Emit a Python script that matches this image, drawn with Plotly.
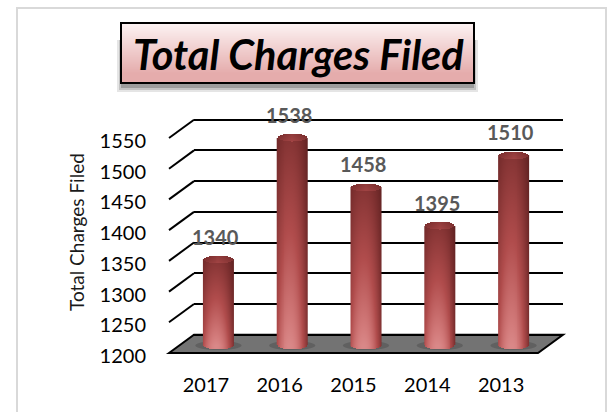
import numpy as np
import plotly.graph_objects as go

categories = ["2017", "2016", "2015", "2014", "2013"]
values = [1340, 1538, 1458, 1395, 1510]
y_ticks = [1200, 1250, 1300, 1350, 1400, 1450, 1500, 1550]
title_text = "Total Charges Filed"
y_title = "Total Charges Filed"

W, H = 613, 412
FONT = "Lato"
PX_PER_UNIT = (353 - 138) / 350.0
SLOT = (538 - 169) / 5.0


def vdomain(y_base, low, high):
    bottom = y_base + (1200 - low) * PX_PER_UNIT
    top = y_base - (high - 1200) * PX_PER_UNIT
    return [(H - bottom) / H, (H - top) / H]


def px(x):
    return x / W


def py(y):
    return (H - y) / H


FRONT = dict(left=169, base=353)
MID = dict(left=181.5, base=345.5)
BACK = dict(left=194, base=334.7)
LABEL_BASE = 356


def row(plane, v):
    return plane["base"] - (v - 1200) * PX_PER_UNIT


fig = go.Figure()

# Subplot order: x/y = back wall grid, x2/y2 = front labelled axes, x3/y3 = cylinders
fig.add_trace(go.Scatter(x=[0, 4], y=[1300, 1300], xaxis="x", yaxis="y", mode="markers",
                         marker=dict(opacity=0), hoverinfo="skip", showlegend=False))
fig.add_trace(go.Scatter(x=[0, 4], y=[1300, 1300], xaxis="x2", yaxis="y2", mode="markers",
                         marker=dict(opacity=0), hoverinfo="skip", showlegend=False))

BAR_PX = 30
RX, RY = BAR_PX / 2.0, 4.0
colorscale = [
    [0.0, "#4f1a1a"],
    [0.3, "#7e3030"],
    [0.6, "#b04c4c"],
    [0.85, "#d27a7a"],
    [1.0, "#e29898"],
]
for i, (cat, v) in enumerate(zip(categories, values)):
    nx = BAR_PX + 2
    xp = np.linspace(-RX, RX, nx)
    xs = i + xp / SLOT
    top_units = v + RY / PX_PER_UNIT
    bot_units = 1200 - RY / PX_PER_UNIT
    ny = int(round((top_units - bot_units) * PX_PER_UNIT)) + 1
    ys = np.linspace(bot_units, top_units, ny)
    z = np.full((ny, nx), np.nan)
    ry_units = RY / PX_PER_UNIT
    for r, yv in enumerate(ys):
        for c, xo in enumerate(xp):
            u = xo / RX
            half = 0.0 if abs(u) >= 1 else ry_units * np.sqrt(1 - u * u)
            if yv < 1200 - half or yv > v + half:
                continue
            t = np.clip((yv - 1200) / (v - 1200), 0, 1)
            side = 1 - 0.48 * abs(u + 0.15) ** 2.2
            base = 0.92 - 0.58 * t
            b = base * side
            if yv > v - half:
                b = 0.30 + 0.16 * (1 - abs(u)) - 0.06 * (yv - v) / ry_units
            z[r, c] = b
    fig.add_trace(go.Heatmap(x=xs, y=ys, z=z, xaxis="x3", yaxis="y3", zmin=0, zmax=1,
                             colorscale=colorscale, showscale=False, hoverinfo="skip",
                             name=cat))

shapes = []
shapes.append(dict(type="rect", xref="paper", yref="paper", x0=px(17), x1=px(606), y0=-0.02, y1=py(8),
                   line=dict(color="#d9d9d9", width=2), fillcolor="white", layer="below"))
for k, op in zip([7, 5, 3], [0.10, 0.15, 0.20]):
    shapes.append(dict(type="rect", xref="paper", yref="paper", x0=px(121 - k + 3), x1=px(474 + k - 3),
                       y0=py(83 + k + 2), y1=py(40), line=dict(width=0), fillcolor="#000000",
                       opacity=op, layer="below"))
box_top, box_bot = 23, 83
n = box_bot - box_top
c_top, c_bot = np.array([253, 243, 243]), np.array([229, 172, 172])
for k in range(n):
    f = min(1.0, k / (n - 1) / 0.85)
    col = c_top + (c_bot - c_top) * f
    shapes.append(dict(type="rect", xref="paper", yref="paper", x0=px(121), x1=px(474),
                       y0=py(box_top + k + 1.5), y1=py(box_top + k), line=dict(width=0),
                       fillcolor="rgb(%d,%d,%d)" % tuple(col), layer="below"))
shapes.append(dict(type="rect", xref="paper", yref="paper", x0=px(121), x1=px(474),
                   y0=py(box_bot), y1=py(box_top), line=dict(color="#000000", width=2),
                   fillcolor="rgba(0,0,0,0)", layer="below"))
f0 = FRONT["base"]
b0 = BACK["base"]
fr = FRONT["left"] + 5 * SLOT
br = BACK["left"] + 5 * SLOT
shapes.append(dict(type="path", xref="paper", yref="paper",
                   path=f"M {px(FRONT['left'])} {py(f0)} L {px(BACK['left'])} {py(b0)} L {px(br)} {py(b0)} L {px(fr)} {py(f0)} Z",
                   fillcolor="#737373", line=dict(color="#000000", width=2), layer="below"))
for t in y_ticks[1:]:
    shapes.append(dict(type="line", xref="paper", yref="paper",
                       x0=px(FRONT["left"]), y0=py(row(FRONT, t)),
                       x1=px(BACK["left"]), y1=py(row(BACK, t)),
                       line=dict(color="#000000", width=2), layer="below"))
for i in range(len(values)):
    shapes.append(dict(type="circle", xref="x3", yref="y3",
                       x0=i - 23 / SLOT, x1=i + 23 / SLOT,
                       y0=1200 - 4.5 / PX_PER_UNIT, y1=1200 + 4.5 / PX_PER_UNIT,
                       fillcolor="rgba(60,60,60,0.35)", line=dict(width=0), layer="below"))

annotations = [
    dict(text=f"<b><i>{title_text}</i></b>", xref="paper", yref="paper", x=px(298), y=py(54),
         xanchor="center", yanchor="middle",
         showarrow=False, font=dict(family=FONT, size=41.5, color="#000000")),
    dict(text=y_title, xref="paper", yref="paper", x=px(76), y=py(232), textangle=-90,
         xanchor="center", yanchor="middle",
         showarrow=False, font=dict(family=FONT, size=19, color="#1a1a1a")),
]
for i, v in enumerate(values):
    annotations.append(dict(text=f"<b>{v}</b>", xref="x3", yref="y3", x=i, y=v, xanchor="center",
                            yanchor="bottom", xshift=-3, yshift=9, showarrow=False,
                            font=dict(family=FONT, size=20, color="#595959")))

xr = [-0.5, 4.5]
hidden = dict(automargin=False, showticklabels=False, ticks="", showgrid=False,
              zeroline=False, showline=False)
fig.update_layout(
    width=W, height=H, autosize=False, paper_bgcolor="white", plot_bgcolor="rgba(0,0,0,0)",
    margin=dict(l=0, r=0, t=0, b=0), showlegend=False, shapes=shapes, annotations=annotations,
    xaxis=dict(domain=[px(BACK["left"]), px(BACK["left"] + 5 * SLOT)], range=xr, anchor="y", **hidden),
    yaxis=dict(domain=vdomain(BACK["base"], 1190, 1560), range=[1190, 1560], anchor="x",
               automargin=False, tickmode="array", tickvals=y_ticks, showticklabels=False, ticks="",
               showgrid=True, gridcolor="#000000", gridwidth=2, zeroline=False, showline=False),
    xaxis2=dict(domain=[px(FRONT["left"]), px(FRONT["left"] + 5 * SLOT)], range=xr, anchor="y2",
                automargin=False, tickmode="array", tickvals=list(range(5)), ticktext=categories,
                showgrid=False, zeroline=False, showline=False, ticks="outside", ticklen=11,
                tickcolor="rgba(0,0,0,0)", tickfont=dict(family=FONT, size=20, color="#000000")),
    yaxis2=dict(domain=vdomain(LABEL_BASE, 1200, 1550), range=[1200, 1550], anchor="x2",
                automargin=False, tickmode="array", tickvals=y_ticks, showgrid=False, zeroline=False,
                showline=False, ticks="outside", ticklen=18, tickcolor="rgba(0,0,0,0)",
                tickfont=dict(family=FONT, size=20, color="#000000")),
    xaxis3=dict(domain=[px(MID["left"]), px(MID["left"] + 5 * SLOT)], range=xr, anchor="y3", **hidden),
    yaxis3=dict(domain=vdomain(MID["base"], 1180, 1570), range=[1180, 1570], anchor="x3", **hidden),
)
fig.write_html("out.html", config=dict(displayModeBar=False),
               post_script="document.body.style.margin='0';document.documentElement.style.overflow='hidden';")
